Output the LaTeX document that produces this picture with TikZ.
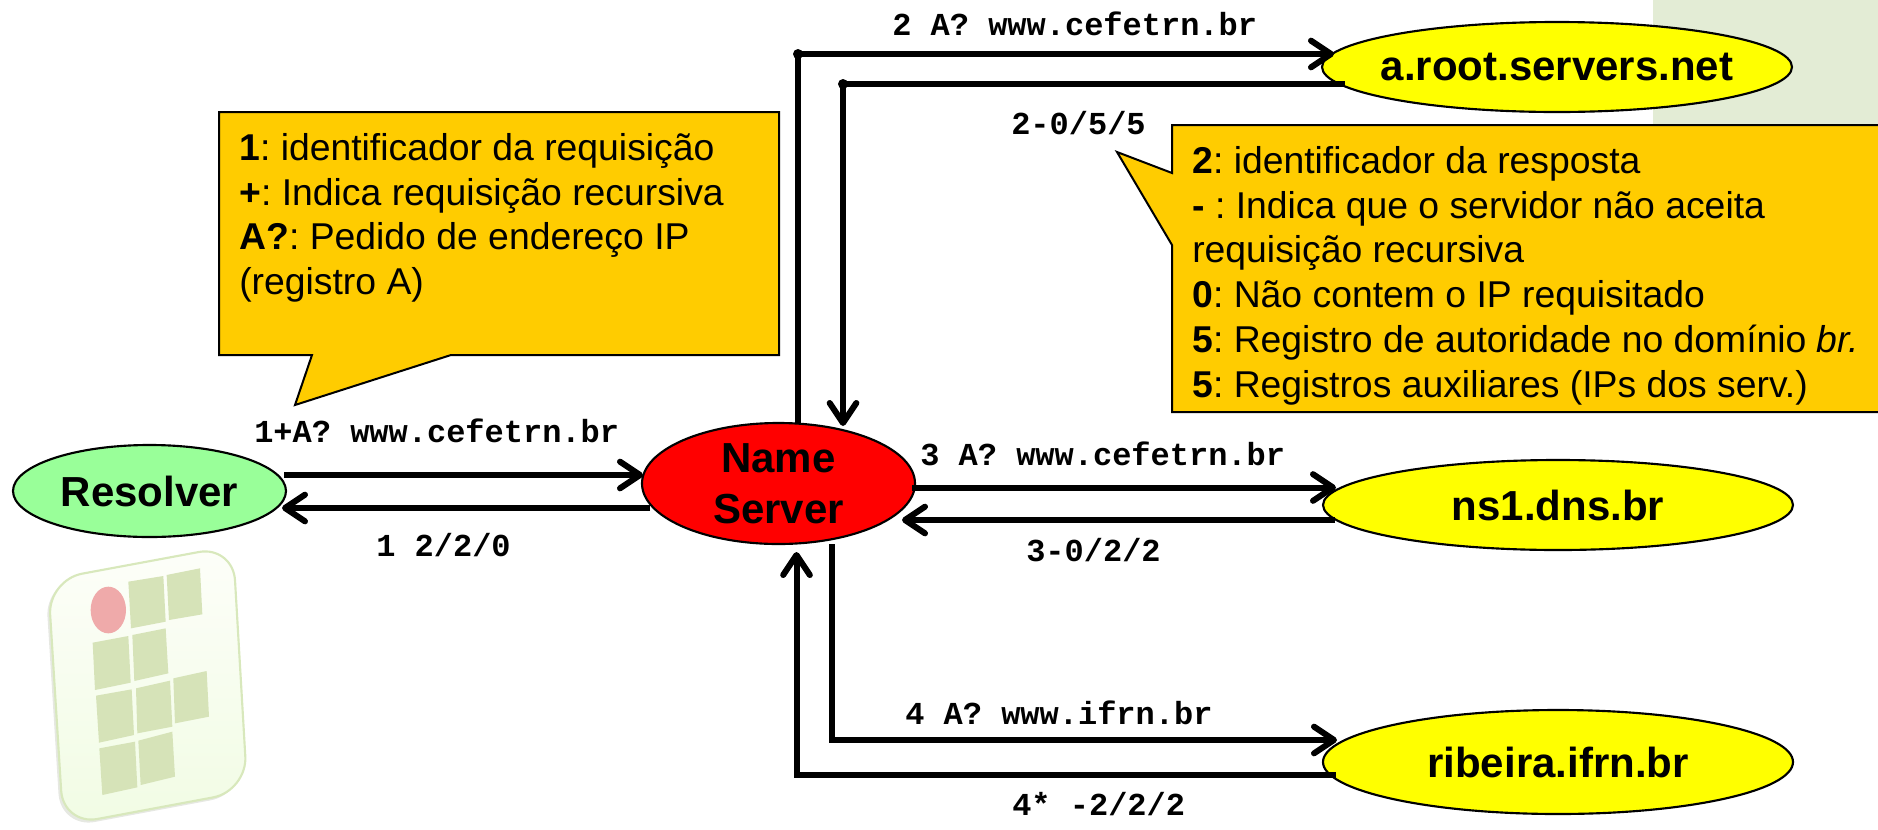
\documentclass[tikz,border=0pt]{standalone}
\usepackage{fontspec}
\setmainfont{Liberation Sans}
\newfontfamily\monof{Liberation Mono}
\usetikzlibrary{arrows.meta,shapes.geometric,calc}
\frenchspacing
\definecolor{callfill}{HTML}{FFCC00}
\definecolor{respfill}{HTML}{99FF99}
\definecolor{srvfill}{HTML}{FFFF00}
\definecolor{namefill}{HTML}{FF0000}
\definecolor{panelfill}{HTML}{E3ECD5}
\definecolor{logoedge}{HTML}{D8E8BC}
\definecolor{logosq}{HTML}{D6E3B8}
\definecolor{logored}{HTML}{EFAAAA}
\definecolor{logotop}{HTML}{FDFEF9}
\definecolor{logobot}{HTML}{F1FCE4}
\definecolor{logoshade}{HTML}{E6E8E2}
\tikzset{
  srv/.style={ellipse,draw=black,line width=1.6pt,inner xsep=-30pt,inner ysep=-10pt,minimum width=470*0.75pt,minimum height=90*0.75pt,fill=srvfill,font=\fontsize{31.5}{38}\selectfont\bfseries,align=center},
  lnk/.style={line width=4.5pt,draw=black,line join=miter},
  arr/.style={lnk,-{Straight Barb[length=15pt,width=20pt,line width=4.5pt,round]}},
  msg/.style={font=\monof\fontsize{24}{28}\selectfont\bfseries,inner sep=0pt,anchor=base west},
  calltxt/.style={font=\fontsize{28}{33.6}\selectfont,inner sep=0pt,anchor=north west,align=left},
  callshape/.style={fill=callfill,draw=black,line width=1.5pt,line join=miter},
  dotc/.style={circle,fill=black,inner sep=0pt,minimum size=7.5pt},
  sq/.style={fill=logosq,draw=none}
}
\begin{document}
\begin{tikzpicture}[x=0.75pt,y=-0.75pt]
\useasboundingbox (0,0) rectangle (1878,829);
\clip (0,0) rectangle (1878,829);
% corner panel
\fill[panelfill] (1653,0) rectangle (1878,130);
% logo
\begin{scope}[x=0.25pt,y=-0.25pt,shift={(0,1500)}]
\fill[logoshade,rounded corners=26pt]
  (136,246) -- (691,143) -- (734,882) -- (182,985) -- cycle;
\shade[top color=logotop,bottom color=logobot,rounded corners=26pt]
  (144,240) -- (699,137) -- (742,873) -- (190,976) -- cycle;
\draw[logoedge,line width=1.6pt,rounded corners=26pt]
  (144,240) -- (699,137) -- (742,873) -- (190,976) -- cycle;
\fill[sq] (385,245)--(490,228)--(497,365)--(393,385)--cycle;
\fill[sq] (500,225)--(600,205)--(607,343)--(507,360)--cycle;
\fill[sq] (278,428)--(385,408)--(392,548)--(285,570)--cycle;
\fill[sq] (397,405)--(497,385)--(505,520)--(403,543)--cycle;
\fill[sq] (288,587)--(395,568)--(402,705)--(297,728)--cycle;
\fill[sq] (408,565)--(510,542)--(517,680)--(412,700)--cycle;
\fill[sq] (520,535)--(620,513)--(627,650)--(525,670)--cycle;
\fill[sq] (298,745)--(405,725)--(412,862)--(307,885)--cycle;
\fill[sq] (415,722)--(517,695)--(525,830)--(422,855)--cycle;
\fill[logored] (325,330) ellipse [x radius=53,y radius=70];
\end{scope}
% callouts
\draw[callshape] (219,112) -- (779,112) -- (779,355) -- (451,355) -- (295,405) -- (312,355) -- (219,355) -- cycle;
\node[calltxt] (c1) at (239,133) {\textbf{1}: identificador da requisição\\\textbf{+}: Indica requisição recursiva\\\textbf{A?}: Pedido de endereço IP\\(registro A)};
\draw[callshape] (1890,125) -- (1172,125) -- (1172,173) -- (1117,152) -- (1172,245) -- (1172,412) -- (1890,412);
\node[calltxt] (c2) at (1192,146) {\textbf{2}: identificador da resposta\\\textbf{-} : Indica que o servidor não aceita\\requisição recursiva\\\textbf{0}: Não contem o IP requisitado\\\textbf{5}: Registro de autoridade no domínio \textit{br.}\\\textbf{5}: Registros auxiliares (IPs dos serv.)};
% servers
\node[srv] (root) at (1557,67) {a.root.servers.net};
\node[srv] (ns1) at (1558,505) {ns1.dns.br};
\node[srv,minimum height=104*0.75pt] (rib) at (1558,762) {ribeira.ifrn.br};
\node[srv,fill=respfill,minimum width=273*0.75pt,minimum height=92*0.75pt] (res) at (149.5,491) {Resolver};
\node[srv,fill=namefill,minimum width=273*0.75pt,minimum height=121*0.75pt] (name) at (778.5,483.5) {Name\\Server};
% connector anchors
\coordinate (up0) at (798,424);
\coordinate (up1) at (798,54);
\coordinate (up1e) at (1334,54);
\coordinate (up2s) at (1345,84);
\coordinate (up2) at (843,84);
\coordinate (up2e) at (843,426);
\coordinate (re) at (284,475);
\coordinate (ne) at (643,475);
\coordinate (nw) at (650,508);
\coordinate (rw) at (282,508);
\coordinate (ne3) at (912,487.5);
\coordinate (ns1w) at (1336,487.5);
\coordinate (ns1s) at (1335,520);
\coordinate (ne4) at (902,520);
\coordinate (nb) at (832,544);
\coordinate (dn4) at (832,740);
\coordinate (ribw) at (1337,740);
\coordinate (ribs) at (1336,775);
\coordinate (ret4) at (796.5,775);
\coordinate (nb2) at (796.5,552);
% links
\draw[arr] (up0) -- (up1) -- (up1e);
\draw[arr] (up2s) -- (up2) -- (up2e);
\node[dotc] (d1) at (up1) {};
\node[dotc] (d2) at (up2) {};
\draw[arr] (re) -- (ne);
\draw[arr] (nw) -- (rw);
\draw[arr] (ne3) -- (ns1w);
\draw[arr] (ns1s) -- (ne4);
\draw[arr] (nb) -- (dn4) -- (ribw);
\draw[arr] (ribs) -- (ret4) -- (nb2);
% messages
\node[msg] (m1) at (892,35) {2 A? www.cefetrn.br};
\node[msg] (m2) at (1011,134) {2-0/5/5};
\node[msg] (m3) at (254,442) {1+A? www.cefetrn.br};
\node[msg] (m4) at (376,556) {1 2/2/0};
\node[msg] (m5) at (920,465) {3 A? www.cefetrn.br};
\node[msg] (m6) at (1026,561) {3-0/2/2};
\node[msg] (m7) at (905,724) {4 A? www.ifrn.br};
\node[msg] (m8) at (1012,815) {4* -2/2/2};
\end{tikzpicture}
\end{document}
